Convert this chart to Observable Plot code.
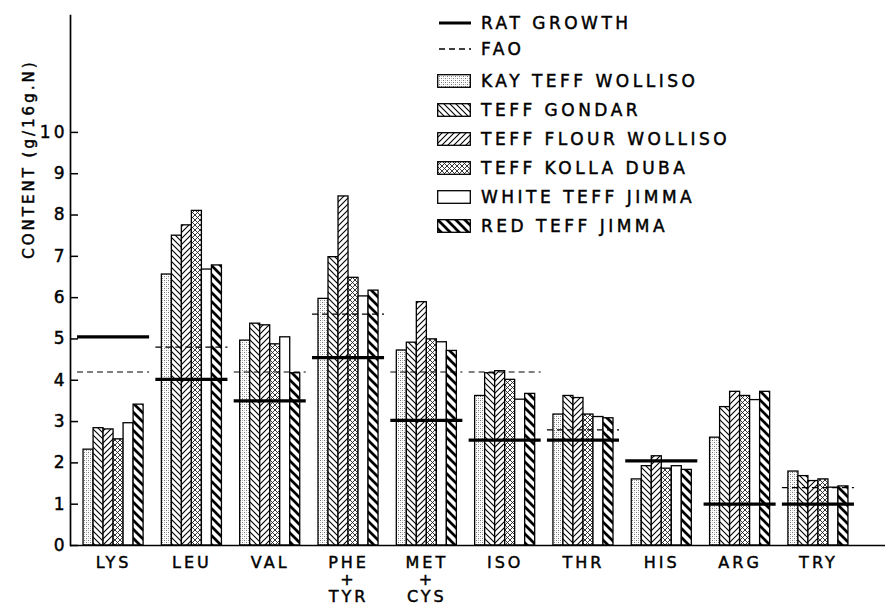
<!DOCTYPE html>
<html><head><meta charset="utf-8">
<script src="https://cdn.jsdelivr.net/npm/d3@7"></script>
<script src="https://cdn.jsdelivr.net/npm/@observablehq/plot@0.6"></script>
<style>
body{margin:0;background:#fff;}
#wrap{position:relative;width:885px;height:608px;font-family:"DejaVu Sans",sans-serif;color:#000;}
#wrap svg text{stroke:#000;stroke-width:0.45px;}
#legend{position:absolute;left:437px;top:10px;}
.row{display:flex;align-items:center;height:29px;}
.row.short{height:26px;}
.row.first{margin-top:4px;}
.row span{font-size:17px;letter-spacing:3.5px;margin-left:10px;white-space:nowrap;-webkit-text-stroke:0.45px #000;}
</style></head><body>
<svg width="0" height="0" style="position:absolute">
<defs>
<pattern id="p-kay" patternUnits="userSpaceOnUse" width="4" height="4"><rect width="4" height="4" fill="#fff"/><rect x="0" y="0" width="1" height="1" fill="#777"/><rect x="2" y="2" width="1" height="1" fill="#777"/><rect x="2" y="0" width="1" height="1" fill="#bbb"/><rect x="0" y="2" width="1" height="1" fill="#ccc"/></pattern>
<pattern id="p-gondar" patternUnits="userSpaceOnUse" width="6" height="6"><rect width="6" height="6" fill="#fff"/><path d="M-1,-1L7,7M-1,5L1,7M5,-1L7,1" stroke="#000" stroke-width="1.1"/></pattern>
<pattern id="p-flour" patternUnits="userSpaceOnUse" width="6" height="6"><rect width="6" height="6" fill="#fff"/><path d="M-1,7L7,-1M-1,1L1,-1M5,7L7,5" stroke="#000" stroke-width="1.1"/></pattern>
<pattern id="p-kolla" patternUnits="userSpaceOnUse" width="5" height="5"><rect width="5" height="5" fill="#fff"/><path d="M-1,-1L6,6M-1,6L6,-1" stroke="#222" stroke-width="0.9"/></pattern>
<pattern id="p-red" patternUnits="userSpaceOnUse" width="9" height="9"><rect width="9" height="9" fill="#fff"/><path d="M-1,-1L10,10M-1,8L1,10M8,-1L10,1" stroke="#000" stroke-width="2.7"/></pattern>
</defs></svg>
<div id="wrap"></div>
<script>
// ---- data ----
const aminoAcids = ["LYS","LEU","VAL","PHE+TYR","MET+CYS","ISO","THR","HIS","ARG","TRY"];
const aminoLabels = ["LYS","LEU","VAL","PHE\n+\nTYR","MET\n+\nCYS","ISO","THR","HIS","ARG","TRY"];
const varieties = ["KAY TEFF WOLLISO","TEFF GONDAR","TEFF FLOUR WOLLISO","TEFF KOLLA DUBA","WHITE TEFF JIMMA","RED TEFF JIMMA"];
const kayTeffWolliso   = [2.32, 6.56, 4.96, 5.97, 4.72, 3.62, 3.17, 1.60, 2.61, 1.79];
const teffGondar       = [2.84, 7.50, 5.37, 6.98, 4.91, 4.17, 3.62, 1.92, 3.35, 1.68];
const teffFlourWolliso = [2.81, 7.75, 5.33, 8.45, 5.89, 4.22, 3.57, 2.16, 3.72, 1.56];
const teffKollaDuba    = [2.57, 8.10, 4.87, 6.48, 4.99, 4.01, 3.17, 1.86, 3.62, 1.60];
const whiteTeffJimma   = [2.96, 6.68, 5.04, 6.03, 4.92, 3.53, 3.11, 1.92, 3.52, 1.40];
const redTeffJimma     = [3.41, 6.78, 4.17, 6.17, 4.71, 3.67, 3.08, 1.83, 3.72, 1.43];
const ratGrowth = [5.05, 4.02, 3.50, 4.55, 3.03, 2.55, 2.55, 2.05, 1.00, 1.00];
const fao       = [4.2, 4.8, 4.2, 5.6, 4.2, 4.2, 2.8, null, null, 1.4];
const yTicks = [0,1,2,3,4,5,6,7,8,9,10];
const yLabel = "CONTENT (g/16g.N)";
const lineLegend = ["RAT GROWTH","FAO"];

// ---- chart ----
const series = [kayTeffWolliso, teffGondar, teffFlourWolliso, teffKollaDuba, whiteTeffJimma, redTeffJimma];
const fills = ["url(#p-kay)","url(#p-gondar)","url(#p-flour)","url(#p-kolla)","#fff","url(#p-red)"];
const W = 885, H = 608, mL = 70, mR = 24, mT = 15, mB = 63;
const xOpts = {type:"band", domain: aminoAcids, paddingInner:0.08, paddingOuter:0.09, round:false};
const bw = Plot.scale({x:{...xOpts, range:[mL, W - mR]}}).bandwidth;
const side = 6, barW = (bw - 2*side)/6;
const rows = aminoAcids.map((a,i)=>({amino:a, rat:ratGrowth[i], fao:fao[i], label:aminoLabels[i]}));

const barMarks = series.map((vals, i) => Plot.barY(
  aminoAcids.map((a,j)=>({amino:a, value:vals[j]})),
  {x:"amino", y:"value", fill:fills[i], stroke:"#000", strokeWidth:1.3,
   insetLeft: side + barW*i, insetRight: bw - side - barW*(i+1)}));

const chart = Plot.plot({
  width:W, height:H, marginLeft:mL, marginRight:mR, marginTop:mT, marginBottom:mB,
  x:{...xOpts, axis:null},
  y:{domain:[0,12.83], axis:null},
  style:{fontFamily:"DejaVu Sans", fontSize:"17px", letterSpacing:"3px", color:"#000", background:"#fff", overflow:"visible"},
  marks:[
    ...barMarks,
    Plot.tickY(rows.filter(d=>d.fao!=null), {x:"amino", y:"fao", stroke:"#000", strokeWidth:1.2, strokeDasharray:"6,4"}),
    Plot.tickY(rows, {x:"amino", y:"rat", stroke:"#000", strokeWidth:3.2}),
    Plot.ruleY([0], {stroke:"#000", strokeWidth:1.7, insetRight:-mR}),
    Plot.frame({anchor:"left", stroke:"#000", strokeWidth:1.7}),
    Plot.axisY({ticks:yTicks, tickSize:-8, tickPadding:11, stroke:"#000", strokeWidth:1.5, fontSize:17, label:null}),
    Plot.text(rows, {x:"amino", text:"label", frameAnchor:"bottom", lineAnchor:"top", dy:10, lineHeight:1.08, fontSize:16}),
    Plot.text([yLabel], {frameAnchor:"top-left", rotate:-90, textAnchor:"end", dx:-47, dy:44, fontSize:15, letterSpacing:"2px"})
  ]
});
const wrap = document.getElementById("wrap");
wrap.appendChild(chart);

// ---- legend ----
const legend = document.createElement("div");
legend.id = "legend";
const items = [
  {label: lineLegend[0], type:"rat"},
  {label: lineLegend[1], type:"fao"},
  ...varieties.map((v,i)=>({label:v, type:"box", fill:fills[i]}))
];
items.forEach((it, k)=>{
  const row = document.createElement("div");
  row.className = "row" + (it.type==="box" ? "" : " short") + (k===2 ? " first" : "");
  let sw;
  if (it.type==="rat") sw = `<svg width="34" height="14"><line x1="2" x2="34" y1="7" y2="7" stroke="#000" stroke-width="3"/></svg>`;
  else if (it.type==="fao") sw = `<svg width="34" height="14"><line x1="2" x2="34" y1="7" y2="7" stroke="#000" stroke-width="1.3" stroke-dasharray="6,4"/></svg>`;
  else sw = `<svg width="34" height="14"><rect x="0.7" y="0.7" width="32.6" height="12.6" fill="${it.fill}" stroke="#000" stroke-width="1.3"/></svg>`;
  row.innerHTML = sw + `<span>${it.label}</span>`;
  legend.appendChild(row);
});
wrap.appendChild(legend);
</script>
</body></html>
